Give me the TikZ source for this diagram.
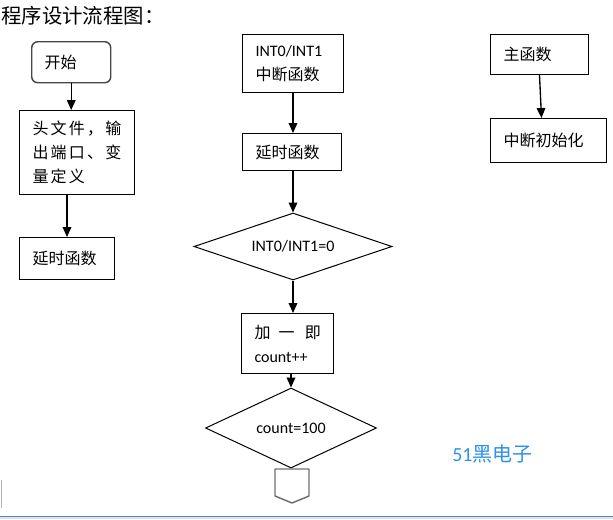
\documentclass[tikz,border=0pt]{standalone}
\usepackage{fontspec}
\setmainfont{Carlito}
\newfontfamily\cjk{Noto Sans CJK SC}
\usepackage{tikz}
\usetikzlibrary{positioning,shapes.geometric,arrows.meta}
\definecolor{brandblue}{RGB}{45,145,235}
\definecolor{connectorgray}{RGB}{110,110,110}
\definecolor{framegray}{RGB}{70,70,70}
\definecolor{barblue}{RGB}{90,135,185}
\definecolor{barlight}{RGB}{215,228,242}

\begin{document}
\begin{tikzpicture}[x=0.75pt,y=-0.75pt,
    every node/.style={inner sep=0pt, font=\fontsize{12pt}{18pt}\selectfont},
    box/.style={draw, rectangle, anchor=north west, inner xsep=9.75pt, align=left, line width=0.75pt},
    startbox/.style={draw=framegray, rounded corners=4.5pt, line width=1.1pt},
    decision/.style={draw, diamond, aspect=2.5, inner sep=0pt, line width=0.75pt},
    flow/.style={-{Triangle[length=7.5pt,width=6.5pt]}, line width=1pt}]
    \useasboundingbox (0,0) rectangle (613,519);

    % Title
    \node[anchor=west, font=\fontsize{15.3pt}{16pt}\selectfont] (title) at (1,16) {\cjk 程序设计流程图：};

    % Nodes
    \node[box, startbox, text width=39.75pt, minimum height=30.75pt] (start) at (31,41) {\cjk 开始};
    \node[box, text width=66.75pt, minimum height=63pt] (head) at (19,110)
        {\cjk\addfontfeature{LetterSpace=14}头文件，输\\出端口、变\\量定义};
    \node[box, text width=51.75pt, minimum height=31.5pt] (delayA) at (19,237) {\cjk 延时函数};

    \node[box, text width=56.25pt, minimum height=43.5pt] (isr) at (242,34) {INT0/INT1\\{\cjk 中断函数}};
    \node[box, text width=54.75pt, minimum height=27.75pt] (delayB) at (242,133) {\cjk 延时函数};
    \node[decision, minimum width=148.5pt, minimum height=50.25pt] (checkA) at (293,246.5) {INT0/INT1=0};
    \node[box, text width=49.5pt, minimum height=45pt] (add) at (241,313)
        {\mbox{\cjk 加\hspace{0.5em}一\hspace{0.65em}即}\\count++};
    \node[decision, minimum width=128.25pt, minimum height=60pt] (checkB) at (291,428) {count=100};

    \node[box, text width=54pt, minimum height=30pt] (main) at (490,34) {\cjk 主函数};
    \node[box, text width=67.5pt, minimum height=33pt] (init) at (490,118) {\cjk 中断初始化};

    \node[anchor=west, text=brandblue, font=\fontsize{15pt}{16pt}\selectfont] (brand) at (452,454) {51{\cjk 黑电子}};

    % Edges
    \draw[flow] (start.south) -- (start.south |- head.north);
    \draw[flow] (delayA.north |- head.south) -- (delayA.north);
    \draw[flow] (isr.south) -- (isr.south |- delayB.north);
    \draw[flow] (checkA.north |- delayB.south) -- (checkA.north);
    \draw[flow] (checkA.south) -- (checkA.south |- add.north);
    \draw[flow] (checkB.north |- add.south) -- (checkB.north);
    \draw[flow] (main.south) -- ([xshift=1.5pt]main.south |- init.north);

    % Off-page connector
    \draw[connectorgray, line width=1.1pt, line join=round]
        (275,469) -- (309,469) -- (309,496) -- (292,503) -- (275,496) -- cycle;

    % Window edge
    \draw[gray!60, line width=0.75pt] (1.5,480) -- (1.5,508);
    \fill[barlight] (0,517) rectangle (613,519);
    \draw[barblue, line width=1.1pt] (0,516.5) -- (613,516.5);
\end{tikzpicture}
\end{document}
